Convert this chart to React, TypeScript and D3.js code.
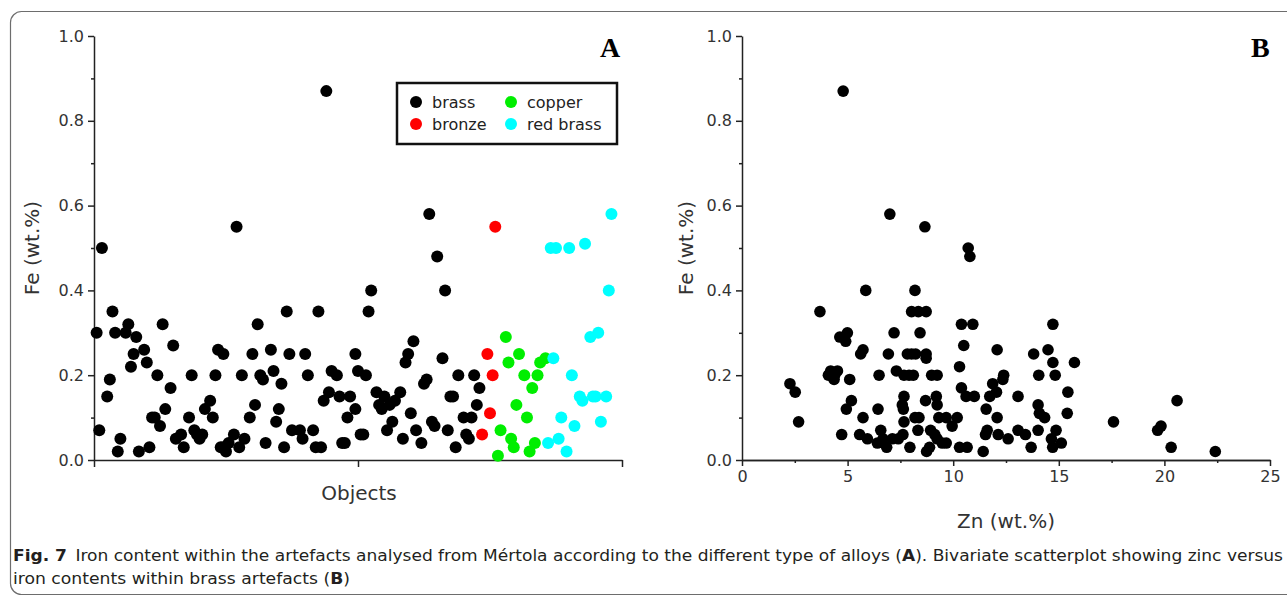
import React, { useEffect, useRef } from 'react';
import * as d3 from 'd3';

// Panel A: [object number, Fe wt.%]
const brass: [number, number][] = [
  [1, 0.30], [2, 0.07], [3, 0.50], [5, 0.15], [6, 0.19], [7, 0.35], [8, 0.30], [9, 0.02], [10, 0.05],
  [12, 0.30], [13, 0.32], [14, 0.22], [15, 0.25], [16, 0.29], [17, 0.02], [19, 0.26], [20, 0.23],
  [21, 0.03], [22, 0.10], [23, 0.10], [24, 0.20], [25, 0.08], [26, 0.32], [27, 0.12], [29, 0.17],
  [30, 0.27], [31, 0.05], [33, 0.06], [34, 0.03], [36, 0.10], [37, 0.20], [38, 0.07], [39, 0.06],
  [40, 0.05], [41, 0.06], [42, 0.12], [44, 0.14], [45, 0.10], [46, 0.20], [47, 0.26], [48, 0.03],
  [49, 0.25], [49, 0.03], [50, 0.02], [51, 0.04], [53, 0.06], [54, 0.55], [55, 0.03], [56, 0.20],
  [57, 0.05], [59, 0.10], [60, 0.25], [61, 0.13], [62, 0.32], [63, 0.20], [64, 0.19], [65, 0.04],
  [67, 0.26], [68, 0.21], [69, 0.09], [70, 0.12], [71, 0.18], [72, 0.03], [73, 0.35], [74, 0.25],
  [75, 0.07], [78, 0.07], [79, 0.05], [80, 0.25], [81, 0.20], [83, 0.07], [84, 0.03], [85, 0.35],
  [86, 0.03], [87, 0.14], [88, 0.87], [89, 0.16], [90, 0.21], [92, 0.20], [93, 0.15], [94, 0.04],
  [95, 0.04], [96, 0.10], [97, 0.15], [99, 0.12], [99, 0.25], [100, 0.21], [101, 0.06], [102, 0.06],
  [103, 0.20], [104, 0.35], [105, 0.40], [107, 0.16], [108, 0.13], [109, 0.12], [110, 0.15],
  [111, 0.07], [112, 0.13], [113, 0.09], [114, 0.14], [116, 0.16], [117, 0.05], [118, 0.23],
  [119, 0.25], [120, 0.11], [121, 0.28], [122, 0.07], [124, 0.04], [125, 0.18], [126, 0.19],
  [127, 0.58], [128, 0.09], [129, 0.08], [130, 0.48], [132, 0.24], [133, 0.40], [134, 0.07],
  [135, 0.15], [136, 0.15], [137, 0.03], [138, 0.20], [140, 0.10], [141, 0.06], [142, 0.05],
  [143, 0.10], [144, 0.20], [145, 0.13], [146, 0.17],
];
const bronze: [number, number][] = [[147, 0.06], [149, 0.25], [150, 0.11], [151, 0.20], [152, 0.55]];
const copper: [number, number][] = [
  [153, 0.01], [154, 0.07], [156, 0.29], [157, 0.23], [158, 0.05], [159, 0.03], [160, 0.13], [161, 0.25],
  [163, 0.20], [164, 0.10], [165, 0.02], [166, 0.17], [167, 0.04], [168, 0.20], [169, 0.23], [171, 0.24],
];
const redBrass: [number, number][] = [
  [172, 0.04], [173, 0.50], [174, 0.24], [175, 0.50], [176, 0.05], [177, 0.10], [179, 0.02], [180, 0.50],
  [181, 0.20], [182, 0.08], [184, 0.15], [185, 0.14], [186, 0.51], [188, 0.29], [189, 0.15], [190, 0.15],
  [191, 0.30], [192, 0.09], [194, 0.15], [195, 0.40], [196, 0.58],
];

// Panel B: [Zn wt.%, Fe wt.%] for brass
const znFe: [number, number][] = [
  [2.27, 0.18], [2.52, 0.16], [2.68, 0.09], [3.69, 0.35], [4.09, 0.20], [4.2, 0.21], [4.39, 0.20],
  [4.36, 0.19], [4.52, 0.21], [4.63, 0.29], [4.83, 0.29], [4.99, 0.30], [4.91, 0.28], [4.72, 0.06],
  [4.79, 0.87], [5.10, 0.19], [4.94, 0.12], [5.18, 0.14], [5.86, 0.40], [5.62, 0.25], [5.73, 0.26],
  [5.73, 0.10], [5.57, 0.06], [5.94, 0.05], [6.49, 0.20], [6.44, 0.12], [6.57, 0.07], [6.41, 0.04],
  [6.68, 0.05], [6.85, 0.03], [6.93, 0.25], [7.0, 0.58], [7.2, 0.30], [7.31, 0.21], [7.12, 0.05],
  [7.4, 0.05], [7.62, 0.06], [7.67, 0.15], [7.59, 0.13], [7.64, 0.12], [7.67, 0.09], [7.95, 0.03],
  [7.67, 0.20], [7.91, 0.20], [8.11, 0.20], [7.83, 0.25], [8.03, 0.25], [8.22, 0.25], [8.19, 0.40],
  [8.03, 0.35], [8.35, 0.35], [8.72, 0.35], [8.43, 0.30], [8.72, 0.25], [8.72, 0.24], [8.66, 0.55],
  [8.19, 0.10], [8.38, 0.10], [8.33, 0.07], [8.69, 0.14], [8.74, 0.02], [8.88, 0.03], [8.93, 0.07],
  [9.13, 0.06], [8.98, 0.20], [9.24, 0.20], [9.2, 0.15], [9.24, 0.13], [9.32, 0.10], [9.24, 0.05],
  [9.48, 0.04], [9.67, 0.10], [9.67, 0.04], [9.95, 0.08], [10.19, 0.10], [10.3, 0.22], [10.39, 0.32],
  [10.5, 0.27], [10.39, 0.17], [10.3, 0.03], [10.61, 0.15], [10.66, 0.03], [10.71, 0.50], [10.79, 0.48],
  [10.93, 0.32], [11.0, 0.15], [11.42, 0.02], [11.56, 0.12], [11.61, 0.07], [11.53, 0.06], [11.73, 0.15],
  [11.87, 0.18], [12.05, 0.16], [12.08, 0.10], [12.13, 0.06], [12.08, 0.26], [12.39, 0.20], [12.35, 0.19],
  [12.6, 0.05], [13.07, 0.15], [13.07, 0.07], [13.42, 0.06], [13.69, 0.03], [13.81, 0.25], [14.05, 0.20],
  [14.02, 0.13], [14.08, 0.11], [14.33, 0.10], [14.02, 0.07], [14.49, 0.26], [14.72, 0.32], [14.72, 0.23],
  [14.83, 0.20], [14.87, 0.07], [14.65, 0.05], [14.71, 0.03], [15.12, 0.04], [15.43, 0.16], [15.4, 0.11],
  [15.74, 0.23], [17.59, 0.09], [19.68, 0.07], [19.84, 0.08], [20.6, 0.14], [20.32, 0.03], [22.41, 0.02],
];

const feMajor = [0, 0.2, 0.4, 0.6, 0.8, 1.0];
const feMinor = [0.1, 0.3, 0.5, 0.7, 0.9];
const objTicks = [0, 100, 200];
const znMajor = [0, 5, 10, 15, 20, 25];
const znMinor = [2.5, 7.5, 12.5, 17.5, 22.5];

const series = [
  { name: 'brass', data: brass, color: '#000000' },
  { name: 'bronze', data: bronze, color: '#ff0000' },
  { name: 'copper', data: copper, color: '#00ee00' },
  { name: 'red brass', data: redBrass, color: '#00ffff' },
];

const tickFont = 'DejaVu Sans, sans-serif';

const App = () => {
  const svgRef = useRef<SVGSVGElement>(null);

  useEffect(() => {
    const svg = d3.select(svgRef.current);
    svg.selectAll('*').remove();

    // figure frame
    svg.append('rect')
      .attr('x', 10.5).attr('y', 11.5)
      .attr('width', 1300).attr('height', 583)
      .attr('rx', 11)
      .attr('fill', 'none')
      .attr('stroke', '#6d6d6d')
      .attr('stroke-width', 1.2);

    const y = d3.scaleLinear().domain([0, 1]).range([460, 36]);
    const xA = d3.scaleLinear().domain([0, 200]).range([94, 622]);
    const xB = d3.scaleLinear().domain([0, 25]).range([742, 1270]);

    const styleAxis = (g) => {
      g.selectAll('path, line').attr('stroke', '#222').attr('stroke-width', 1.5);
      g.selectAll('text').attr('font-family', tickFont).attr('font-size', 16).attr('fill', '#333');
    };

    const yAxes = (x0: number) => {
      svg.append('g').attr('transform', `translate(${x0},0)`)
        .call(d3.axisLeft(y).tickValues(feMajor).tickFormat(d3.format('.1f')).tickSize(6).tickSizeOuter(0).tickPadding(4))
        .call(styleAxis)
        .call(g => g.select('.domain').remove());
      svg.append('g').attr('transform', `translate(${x0},0)`)
        .call(d3.axisLeft(y).tickValues(feMinor).tickFormat(() => '').tickSize(3).tickSizeOuter(0))
        .call(styleAxis);
    };

    // ---- Panel A ----
    yAxes(94);
    svg.append('g').attr('transform', 'translate(0,460)')
      .call(d3.axisBottom(xA).tickValues(objTicks).tickFormat(() => '').tickSize(7).tickSizeOuter(0))
      .call(styleAxis);

    series.forEach(s => {
      svg.append('g').selectAll('circle')
        .data(s.data)
        .enter()
        .append('circle')
        .attr('cx', d => xA(d[0]))
        .attr('cy', d => y(d[1]))
        .attr('r', 6)
        .attr('fill', s.color);
    });

    svg.append('text')
      .attr('transform', 'translate(39,248) rotate(-90)')
      .attr('text-anchor', 'middle')
      .attr('font-family', tickFont).attr('font-size', 20).attr('fill', '#333')
      .text('Fe (wt.%)');
    svg.append('text')
      .attr('x', 359).attr('y', 500)
      .attr('text-anchor', 'middle')
      .attr('font-family', tickFont).attr('font-size', 20).attr('fill', '#333')
      .text('Objects');
    svg.append('text')
      .attr('x', 600).attr('y', 57)
      .attr('font-family', 'Liberation Serif, Times New Roman, serif')
      .attr('font-weight', 'bold').attr('font-size', 28)
      .text('A');

    // legend
    svg.append('rect')
      .attr('x', 397).attr('y', 83).attr('width', 220).attr('height', 61)
      .attr('fill', 'white').attr('stroke', '#111').attr('stroke-width', 2.5);
    const legendPos = [[416, 102], [416, 124], [511, 102], [511, 124]];
    const legend = svg.append('g').selectAll('g')
      .data(series)
      .enter()
      .append('g')
      .attr('transform', (d, i) => `translate(${legendPos[i][0]},${legendPos[i][1]})`);
    legend.append('circle').attr('r', 6).attr('fill', d => d.color);
    legend.append('text')
      .attr('x', 16).attr('y', 6)
      .attr('font-family', tickFont).attr('font-size', 16).attr('fill', '#222')
      .text(d => d.name);

    // ---- Panel B ----
    yAxes(742);
    svg.append('g').attr('transform', 'translate(0,460)')
      .call(d3.axisBottom(xB).tickValues(znMajor).tickFormat(d3.format('d')).tickSize(6).tickSizeOuter(0).tickPadding(5))
      .call(styleAxis);
    svg.append('g').attr('transform', 'translate(0,460)')
      .call(d3.axisBottom(xB).tickValues(znMinor).tickFormat(() => '').tickSize(3).tickSizeOuter(0))
      .call(styleAxis);

    svg.append('g').selectAll('circle')
      .data(znFe)
      .enter()
      .append('circle')
      .attr('cx', d => xB(d[0]))
      .attr('cy', d => y(d[1]))
      .attr('r', 5.8)
      .attr('fill', '#000');

    svg.append('text')
      .attr('transform', 'translate(693,248) rotate(-90)')
      .attr('text-anchor', 'middle')
      .attr('font-family', tickFont).attr('font-size', 20).attr('fill', '#333')
      .text('Fe (wt.%)');
    svg.append('text')
      .attr('x', 1006).attr('y', 528)
      .attr('text-anchor', 'middle')
      .attr('font-family', tickFont).attr('font-size', 20).attr('fill', '#333')
      .text('Zn (wt.%)');
    svg.append('text')
      .attr('x', 1251).attr('y', 57)
      .attr('font-family', 'Liberation Serif, Times New Roman, serif')
      .attr('font-weight', 'bold').attr('font-size', 28)
      .text('B');

    // ---- caption ----
    const capFont = 'Liberation Sans Narrow, DejaVu Sans Condensed, Arial Narrow, sans-serif';
    const line1 = svg.append('text')
      .attr('x', 13).attr('y', 561)
      .attr('font-family', capFont).attr('font-size', 16).attr('fill', '#231f20')
      .attr('textLength', 1270).attr('lengthAdjust', 'spacingAndGlyphs');
    line1.append('tspan').attr('font-weight', 'bold').text('Fig. 7');
    line1.append('tspan').text('\u2002Iron content within the artefacts analysed from Mértola according to the different type of alloys (');
    line1.append('tspan').attr('font-weight', 'bold').text('A');
    line1.append('tspan').text('). Bivariate scatterplot showing zinc versus');
    const line2 = svg.append('text')
      .attr('x', 13).attr('y', 584)
      .attr('font-family', capFont).attr('font-size', 16).attr('fill', '#231f20')
      .attr('textLength', 337).attr('lengthAdjust', 'spacingAndGlyphs');
    line2.append('tspan').text('iron contents within brass artefacts (');
    line2.append('tspan').attr('font-weight', 'bold').text('B');
    line2.append('tspan').text(')');
  }, []);

  return (
    <svg ref={svgRef} width={1287} height={596}
      style={{ position: 'absolute', left: 0, top: 0, background: '#fff' }} />
  );
};

export default App;
